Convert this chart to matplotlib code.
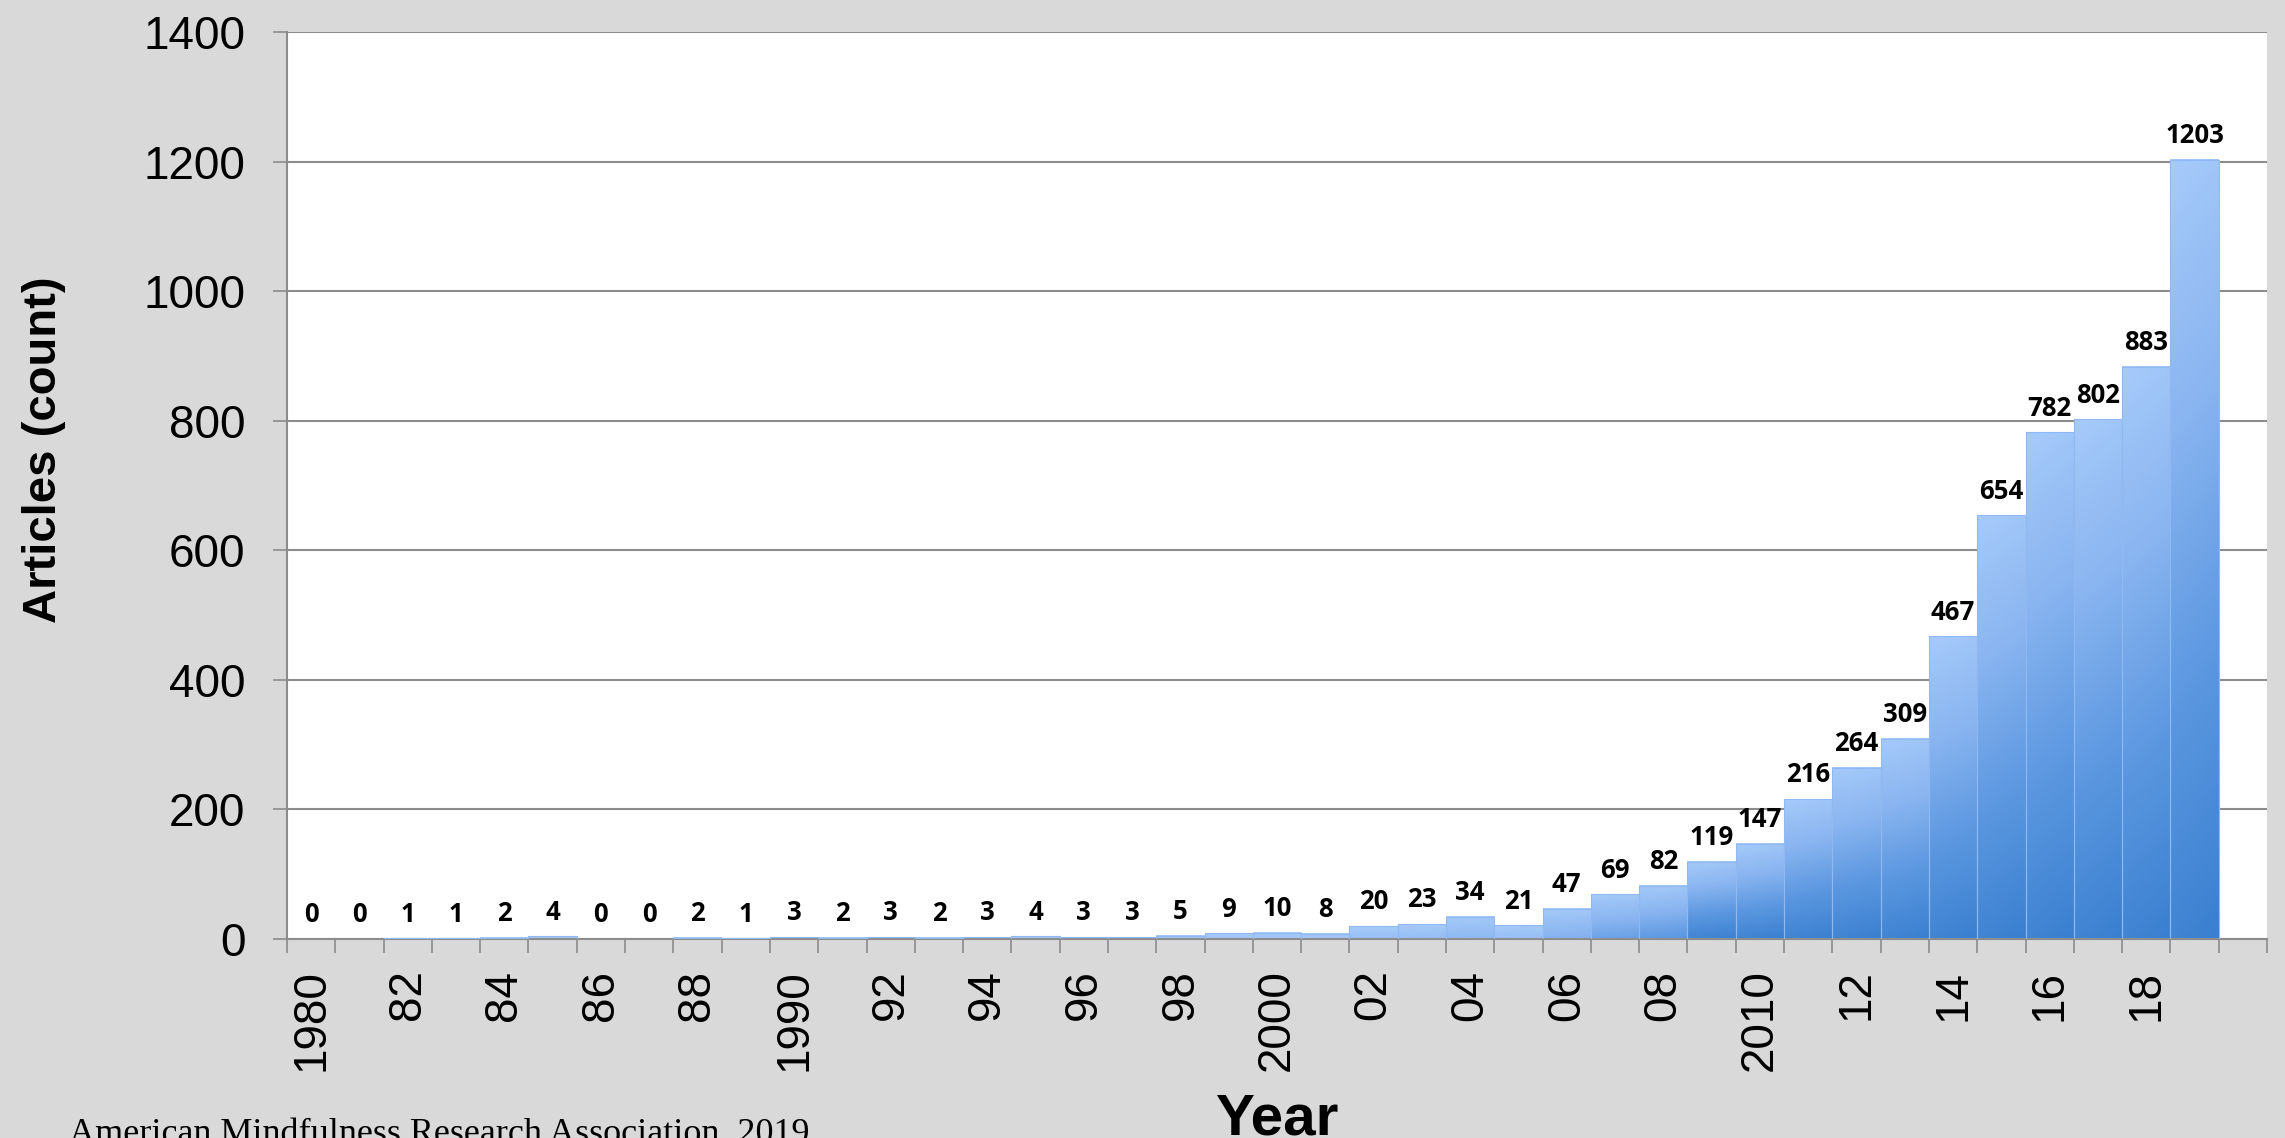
import matplotlib
matplotlib.use("Agg")
import matplotlib.pyplot as plt
import numpy as np
from matplotlib.colors import LinearSegmentedColormap

# articles per year, 1980-2019
years = list(range(1980, 2020))
counts = [0, 0, 1, 1, 2, 4, 0, 0, 2, 1,
          3, 2, 3, 2, 3, 4, 3, 3, 5, 9,
          10, 8, 20, 23, 34, 21, 47, 69, 82, 119,
          147, 216, 264, 309, 467, 654, 782, 802, 883, 1203]
year_labels = ["1980", "82", "84", "86", "88", "1990", "92", "94", "96", "98",
               "2000", "02", "04", "06", "08", "2010", "12", "14", "16", "18"]

BG = "#d9d9d9"
GRID = "#8c8c8c"
label_font = dict(family=["Liberation Sans", "DejaVu Sans"], weight="bold")

plt.rcParams["font.family"] = ["Liberation Sans", "DejaVu Sans"]

fig = plt.figure(figsize=(22.85, 11.38), dpi=100, facecolor=BG)
ax = fig.add_axes([287 / 2285, 1 - 939 / 1138, (2267 - 287) / 2285, (939 - 32) / 1138])
ax.set_facecolor("white")

n = len(counts)

# gradient fill: light at the top of each bar, darker towards the base
grad = LinearSegmentedColormap.from_list(
    "bars", ["#a6cafa", "#88b4f0", "#5b97e0", "#3a80d0"])
xx = np.linspace(0, 1, 16)
for i, h in enumerate(counts):
    if h <= 0:
        continue
    depth = h / max(h, 120)
    tt = np.linspace(0, depth, 120)[:, None]
    img = np.clip(tt * 0.93 + xx[None, :] * 0.07 * depth, 0, 1)
    ax.imshow(img, cmap=grad, vmin=0, vmax=1, aspect="auto",
              extent=[i - 0.5, i + 0.5, 0, h], origin="upper",
              interpolation="bilinear", zorder=2)
ax.bar(range(n), counts, width=1.0, facecolor="none",
       edgecolor="#8fb9f0", linewidth=0.8, zorder=3)

for i, h in enumerate(counts):
    ax.annotate(str(h), (i, h), xytext=(0, 12), textcoords="offset points",
                ha="center", va="baseline", fontsize=18.5,
                family=["Open Sans", "DejaVu Sans"], weight="bold",
                color="black", zorder=4)

ax.set_xlim(-0.5, n + 0.5)
ax.set_ylim(0, 1400)

# y axis
ax.set_yticks(range(0, 1401, 200))
ax.yaxis.grid(True, color=GRID, linewidth=1.5, zorder=0)
ax.set_axisbelow(True)
ax.tick_params(axis="y", length=10, width=1.2, color=GRID, pad=20,
               labelsize=33, labelcolor="black")

# x axis: ticks between the bars, labels every second year
ax.set_xticks(np.arange(-0.5, n + 1, 1.0), minor=True)
ax.set_xticks(range(0, n, 2))
ax.set_xticklabels(year_labels, rotation=90)
ax.tick_params(axis="x", which="minor", length=10, width=1.2, color=GRID)
ax.tick_params(axis="x", which="major", length=0, pad=22,
               labelsize=33, labelcolor="black")

for side in ("top", "right"):
    ax.spines[side].set_visible(False)
for side in ("left", "bottom"):
    ax.spines[side].set_color(GRID)
    ax.spines[side].set_linewidth(1.5)

fig.text(44 / 2285, 1 - 450 / 1138, "Articles (count)", rotation=90,
         ha="center", va="center", fontsize=34, **label_font)
fig.text(1277 / 2285, 0.0035, "Year", ha="center", va="baseline",
         fontsize=42, **label_font)
fig.text(69 / 2285, -0.0044, "American Mindfulness Research Association, 2019",
         ha="left", va="baseline", fontsize=26,
         family=["Liberation Serif", "DejaVu Serif"])

fig.savefig("out.png", dpi=100, facecolor=BG)
